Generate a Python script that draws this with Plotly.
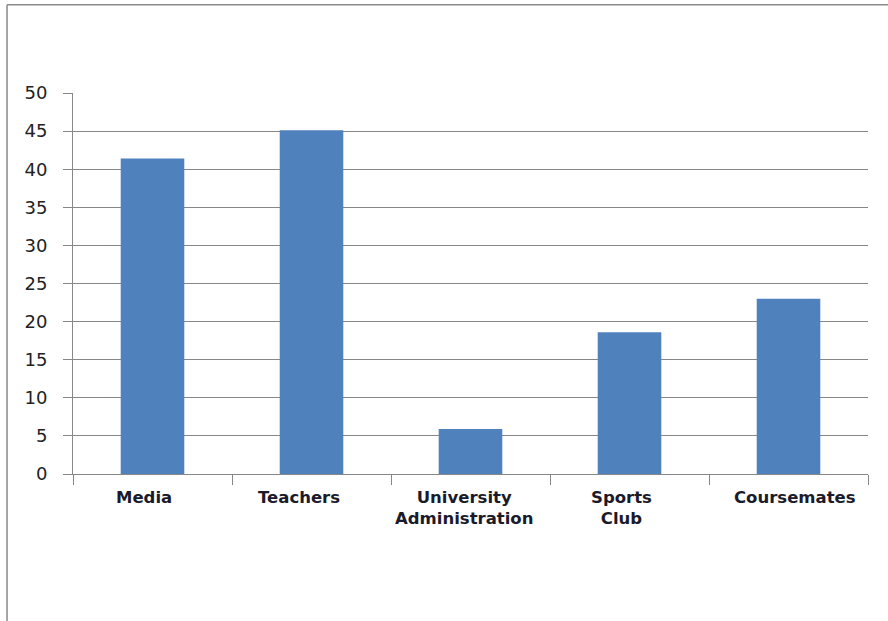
import plotly.graph_objects as go

categories = ["Media", "Teachers", "University<br>Administration", "Sports<br>Club", "Coursemates"]
values = [41.4, 45.1, 5.9, 18.6, 23.0]
y_ticks = [0, 5, 10, 15, 20, 25, 30, 35, 40, 45, 50]

# small horizontal nudges of the category labels, as in the reference rendering (px)
label_nudge = [-9, -13, -7, -8, 6]

W, H = 888, 621
L, R, T, B = 72.7, 20, 93.3, 146.7
pw, ph = W - L - R, H - T - B

def px_x(p):
    return (p - L) / pw

def px_y(p):
    return (H - B - p) / ph

fig = go.Figure()
fig.add_trace(go.Bar(
    x=categories, y=values,
    marker=dict(color="#4F81BD", line=dict(width=0)),
))

grey = "#878787"
label_font = dict(family="DejaVu Sans", size=16.5, color="#1a1a2a", weight="bold")

annotations = [
    dict(x=c, y=0, xref="x", yref="paper", text=c, showarrow=False,
         xanchor="center", yanchor="top", yshift=-12, xshift=n,
         font=label_font, align="center")
    for c, n in zip(categories, label_nudge)
]

fig.update_layout(
    width=W, height=H,
    margin=dict(l=L, r=R, t=T, b=B, pad=0),
    paper_bgcolor="white", plot_bgcolor="white",
    bargap=0.6,
    showlegend=False,
    xaxis=dict(
        showline=True, linecolor=grey, linewidth=1,
        ticks="outside", tickson="boundaries", ticklen=10, tickcolor=grey,
        showgrid=False, showticklabels=False,
        fixedrange=True,
    ),
    yaxis=dict(
        range=[0, 50], tickvals=y_ticks,
        showline=True, linecolor=grey, linewidth=1,
        ticks="outside", ticklen=9, tickcolor=grey,
        showgrid=True, gridcolor=grey, gridwidth=1,
        zeroline=False,
        tickfont=dict(family="DejaVu Sans", size=18, color="#222222"),
        ticklabelstandoff=12,
        fixedrange=True,
    ),
    annotations=annotations,
    shapes=[
        dict(type="line", xref="paper", yref="paper",
             x0=px_x(6.7), x1=px_x(W + 5), y0=px_y(5), y1=px_y(5),
             line=dict(color="#8a8a8a", width=1.5)),
        dict(type="line", xref="paper", yref="paper",
             x0=px_x(6.7), x1=px_x(6.7), y0=px_y(5), y1=px_y(H + 5),
             line=dict(color="#8a8a8a", width=1.5)),
    ],
)

fig.write_html(
    "out.html",
    config={"displayModeBar": False},
    post_script="document.body.style.margin='0';document.body.style.overflow='hidden';",
)
